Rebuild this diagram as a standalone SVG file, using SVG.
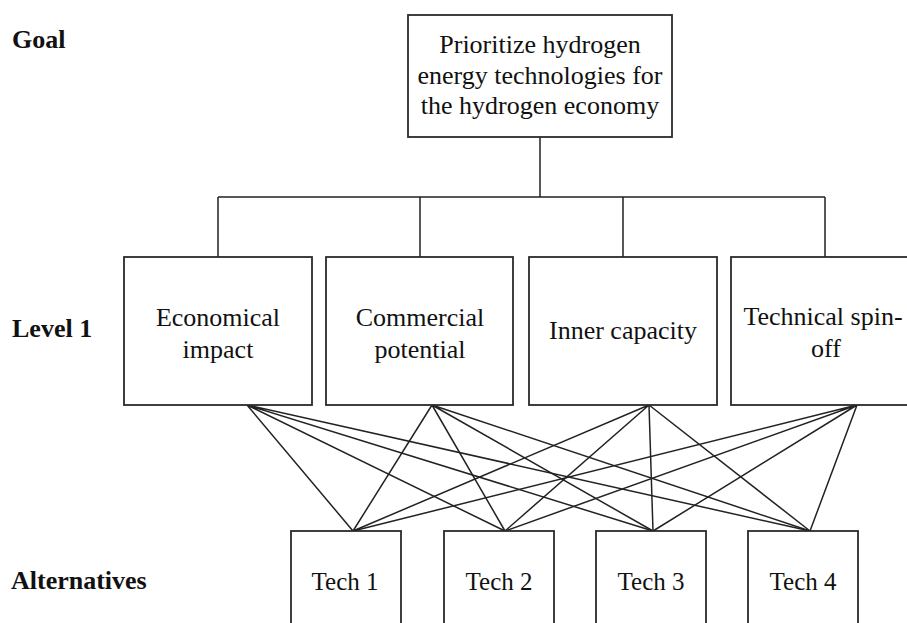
<svg xmlns="http://www.w3.org/2000/svg" width="907" height="623" viewBox="0 0 907 623">
<style>
  .box { fill: #ffffff; stroke: #2a2a2a; stroke-width: 1.8; }
  .t { font-family: "Liberation Serif", "Times New Roman", serif; font-size: 26px; fill: #111; text-anchor: middle; }
  .tt { font-family: "Liberation Serif", "Times New Roman", serif; font-size: 25px; fill: #111; text-anchor: middle; }
  .lab { font-family: "Liberation Serif", "Times New Roman", serif; font-size: 26px; font-weight: bold; fill: #111; }
  .c { fill: none; stroke: #222; stroke-width: 1.5; }
</style>
<rect width="907" height="623" fill="#ffffff"/>
<g id="labels">
  <text class="lab" x="12" y="48">Goal</text>
  <text class="lab" x="12" y="337">Level 1</text>
  <text class="lab" x="11" y="589">Alternatives</text>
</g>
<g id="connectors">
  <path class="c" d="M540 137 V197 M218 197 H825 M218 197 V257 M420 197 V257 M623 197 V257 M825 197 V257"/>
  <path class="c" d="M247 405 L353 531 M247 405 L505 531 M247 405 L653 531 M247 405 L810 531"/>
  <path class="c" d="M432 405 L353 531 M432 405 L505 531 M432 405 L653 531 M432 405 L810 531"/>
  <path class="c" d="M649 405 L353 531 M649 405 L505 531 M649 405 L653 531 M649 405 L810 531"/>
  <path class="c" d="M857 405 L353 531 M857 405 L505 531 M857 405 L653 531 M857 405 L810 531"/>
</g>
<g id="goal">
  <rect class="box" x="408" y="15" width="264" height="122"/>
  <text class="t" x="540" y="53">Prioritize hydrogen</text>
  <text class="t" x="540" y="84">energy technologies for</text>
  <text class="t" x="540" y="114">the hydrogen economy</text>
</g>
<g id="economical">
  <rect class="box" x="124" y="257" width="188" height="148"/>
  <text class="t" x="218" y="326">Economical</text>
  <text class="t" x="218" y="358">impact</text>
</g>
<g id="commercial">
  <rect class="box" x="326" y="257" width="187" height="148"/>
  <text class="t" x="420" y="326">Commercial</text>
  <text class="t" x="420" y="358">potential</text>
</g>
<g id="inner">
  <rect class="box" x="529" y="257" width="188" height="148"/>
  <text class="t" x="623" y="339">Inner capacity</text>
</g>
<g id="technical">
  <rect class="box" x="731" y="257" width="188" height="148"/>
  <text class="t" x="823" y="325">Technical spin-</text>
  <text class="t" x="826" y="357">off</text>
</g>
<g id="tech1">
  <rect class="box" x="291" y="531" width="110" height="110"/>
  <text class="tt" x="345" y="590">Tech 1</text>
</g>
<g id="tech2">
  <rect class="box" x="444" y="531" width="110" height="110"/>
  <text class="tt" x="499" y="590">Tech 2</text>
</g>
<g id="tech3">
  <rect class="box" x="596" y="531" width="110" height="110"/>
  <text class="tt" x="651" y="590">Tech 3</text>
</g>
<g id="tech4">
  <rect class="box" x="748" y="531" width="110" height="110"/>
  <text class="tt" x="803" y="590">Tech 4</text>
</g>
</svg>
